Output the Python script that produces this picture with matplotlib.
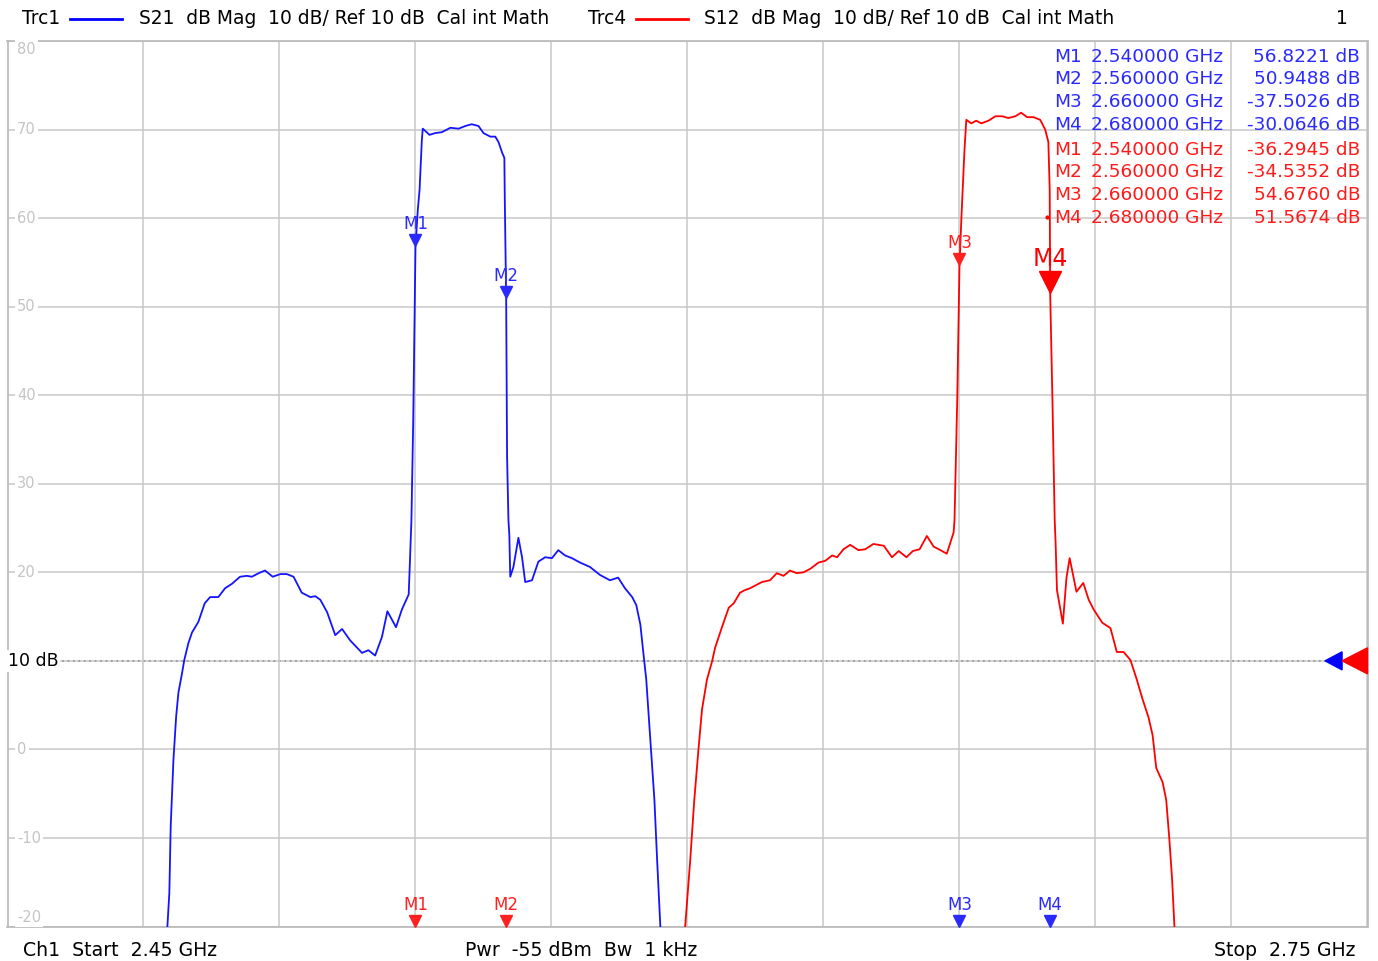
import matplotlib
matplotlib.use('Agg')
import matplotlib.pyplot as plt
from matplotlib.transforms import offset_copy
from matplotlib.patches import Polygon

W, H = 1378, 961
plt.rcParams['font.family'] = ['DejaVu Sans']

# ---- data (frequency in MHz, level in dB) ----
trc1_f = [2485.1, 2485.7, 2486.0, 2486.6, 2487.2, 2487.7, 2488.5, 2489.0, 2489.9, 2490.7,
          2492.1, 2493.5, 2494.7, 2496.5, 2498.0, 2499.5, 2501.3, 2502.8, 2503.9, 2505.4,
          2506.8, 2508.5, 2510.2, 2511.6, 2513.1, 2514.9, 2516.8, 2517.9, 2519.0, 2520.5,
          2522.3, 2523.8, 2525.6, 2528.2, 2529.6, 2531.1, 2532.6, 2533.8, 2535.7, 2537.0,
          2538.5, 2538.8, 2539.1, 2539.5, 2540.0, 2540.5, 2540.9, 2541.2, 2541.4, 2541.6,
          2543.1, 2544.3, 2545.8, 2547.7, 2549.5, 2551.0, 2552.4, 2553.9, 2555.0, 2556.5,
          2557.6, 2558.3, 2559.1, 2559.6, 2559.7, 2560.0, 2560.2, 2560.5, 2560.7, 2560.9,
          2561.6, 2562.7, 2563.5, 2564.2, 2565.7, 2567.1, 2568.6, 2570.1, 2571.5, 2573.0,
          2574.5, 2576.3, 2578.5, 2580.7, 2582.9, 2584.7, 2586.2, 2587.8, 2588.7, 2589.6,
          2590.2, 2590.9, 2591.8, 2592.7, 2593.3, 2594.0, 2594.2]
trc1_db = [-21.5, -16.2, -8.7, -1.2, 3.7, 6.4, 8.6, 10.1, 12.0, 13.2,
           14.4, 16.5, 17.2, 17.2, 18.2, 18.7, 19.5, 19.6, 19.5, 19.9,
           20.2, 19.5, 19.8, 19.8, 19.5, 17.7, 17.2, 17.3, 16.9, 15.5,
           12.9, 13.6, 12.3, 10.9, 11.2, 10.6, 12.7, 15.6, 13.8, 15.8,
           17.5, 21.6, 25.9, 37.2, 56.8, 60.9, 63.2, 66.6, 68.8, 70.1,
           69.4, 69.6, 69.7, 70.2, 70.1, 70.4, 70.6, 70.4, 69.6, 69.2,
           69.2, 68.6, 67.4, 66.8, 62.0, 50.9, 33.1, 25.9, 24.2, 19.5,
           20.6, 23.9, 21.7, 18.9, 19.1, 21.2, 21.7, 21.6, 22.5, 21.9,
           21.6, 21.1, 20.6, 19.7, 19.1, 19.4, 18.2, 17.2, 16.3, 14.1,
           11.2, 7.9, 1.1, -5.7, -12.5, -19.9, -22.0]

trc4_f = [2599.1, 2599.5, 2600.6, 2601.5, 2602.4, 2603.2, 2604.3, 2605.4, 2606.1, 2607.6,
          2609.1, 2610.2, 2611.6, 2612.7, 2613.8, 2615.3, 2616.4, 2618.2, 2619.7, 2621.2,
          2622.6, 2624.1, 2625.6, 2627.1, 2628.9, 2630.4, 2631.9, 2633.0, 2634.4, 2635.9,
          2637.7, 2639.2, 2641.0, 2643.3, 2645.1, 2646.6, 2648.3, 2649.7, 2651.2, 2652.8,
          2654.3, 2655.8, 2657.2, 2658.7, 2658.9, 2659.5, 2660.0, 2660.4, 2660.7, 2661.1,
          2661.5, 2662.6, 2663.7, 2664.8, 2666.4, 2667.9, 2669.4, 2670.8, 2672.3, 2673.6,
          2674.9, 2676.3, 2677.8, 2678.9, 2679.6, 2679.9, 2680.0, 2680.5, 2681.0, 2681.2,
          2681.5, 2682.8, 2683.6, 2684.3, 2685.8, 2687.3, 2688.5, 2689.6, 2691.5, 2693.3,
          2694.7, 2696.2, 2697.7, 2699.1, 2700.3, 2701.7, 2702.6, 2703.4, 2704.8, 2705.6,
          2706.3, 2706.9, 2707.4, 2707.6]
trc4_db = [-22.0, -19.9, -12.5, -5.7, -0.1, 4.5, 7.9, 9.9, 11.5, 13.8,
           16.0, 16.5, 17.7, 18.0, 18.2, 18.6, 18.9, 19.1, 19.9, 19.6,
           20.2, 19.9, 20.0, 20.4, 21.1, 21.3, 21.9, 21.7, 22.6, 23.1,
           22.5, 22.6, 23.2, 23.0, 21.7, 22.4, 21.7, 22.4, 22.6, 24.1,
           22.9, 22.5, 22.1, 24.5, 25.9, 39.5, 54.7, 59.8, 63.2, 67.7,
           71.1, 70.7, 71.0, 70.7, 71.0, 71.5, 71.5, 71.3, 71.5, 71.9,
           71.4, 71.4, 71.1, 70.0, 68.6, 63.2, 51.6, 39.5, 25.9, 23.3,
           18.0, 14.2, 19.4, 21.6, 17.8, 18.8, 16.9, 15.8, 14.3, 13.7,
           11.0, 11.0, 10.1, 7.9, 5.8, 3.6, 1.6, -2.1, -3.7, -5.7,
           -10.2, -14.7, -19.9, -22.0]

mk_names = ['M1', 'M2', 'M3', 'M4']
mk_freq = [2540.0, 2560.0, 2660.0, 2680.0]
mk_trc1 = [56.8221, 50.9488, -37.5026, -30.0646]
mk_trc4 = [-36.2945, -34.5352, 54.6760, 51.5674]

y_ticks = [80, 70, 60, 50, 40, 30, 20, 10, 0, -10, -20]
ref_level = 10
f_start, f_stop = 2450, 2750

BLUE = '#1414ff'
RED = '#ff0000'
GRID = '#c8c8c8'

def px(x, y):
    return x / W, 1 - y / H

fig = plt.figure(figsize=(W / 100, H / 100), dpi=100)
ax = fig.add_axes([7.5 / W, (H - 926.5) / H, 1360 / W, 885.5 / H])
ax.set_xlim(f_start, f_stop)
ax.set_ylim(-20, 80)
ax.set_xticks([f_start + 30 * k for k in range(11)])
ax.set_yticks(y_ticks)
ax.grid(True, color=GRID, lw=1.1)
ax.tick_params(length=0, labelbottom=False, labelleft=False)
for s in ax.spines.values():
    s.set_color('#b8b8b8')
    s.set_linewidth(1.2)

# y labels inside the grid, light gray
for v in y_ticks:
    if v == ref_level:
        continue
    if v == 80:
        yy = 50
    elif v == -20:
        yy = 917
    else:
        yy = 661 - (v - ref_level) * 8.855
    fig.text(*px(17, yy), str(v), color='#c4c4c4', fontsize=10.5, ha='left', va='center',
             bbox=dict(boxstyle='square,pad=0.15', fc='white', ec='none'))

# reference line
ax.axhline(ref_level, color='black', ls=(0, (1, 2)), lw=1.3, zorder=1)
fig.text(*px(8, 661), '10 dB', color='black', fontsize=12.5, ha='left', va='center',
         bbox=dict(boxstyle='square,pad=0.1', fc='white', ec='none'), zorder=5)
ax.add_patch(Polygon([[0.9688, 0.3], [0.9813, 0.3102], [0.9813, 0.2898]],
                     closed=True, transform=ax.transAxes, color='#0000ff', zorder=4, clip_on=False))
ax.add_patch(Polygon([[0.9813, 0.3], [1.0, 0.3147], [1.0, 0.2853]],
                     closed=True, transform=ax.transAxes, color=RED, zorder=4, clip_on=False))

# traces
ax.plot(trc1_f, trc1_db, color=BLUE, lw=1.3, zorder=3)
ax.plot(trc4_f, trc4_db, color=RED, lw=1.3, zorder=3)

def marker(f, v, name, color, size=12, fs=12, gap=17):
    v = max(v, -20)
    tr = offset_copy(ax.transData, fig=fig, x=0, y=size / 2, units='dots')
    ax.plot([f], [v], marker='v', ms=size * 0.72, color=color, ls='none',
            transform=tr, clip_on=False, zorder=6)
    ax.annotate(name, (f, v), xytext=(0, gap), textcoords='offset pixels',
                ha='center', va='baseline', color=color, fontsize=fs, zorder=6)

for i in range(4):
    if i == 3:
        marker(mk_freq[i], mk_trc4[i], mk_names[i], RED, size=22, fs=17, gap=27)
    else:
        marker(mk_freq[i], mk_trc4[i], mk_names[i], '#ff2020')
    marker(mk_freq[i], mk_trc1[i], mk_names[i], '#2a2aff')

# marker readout table
rows_y = [57, 79, 102, 125, 150, 172, 195, 218]
k = 0
for vals, col in [(mk_trc1, '#2a2aff'), (mk_trc4, '#ff1a1a')]:
    for name, f, v in zip(mk_names, mk_freq, vals):
        y = rows_y[k]
        fig.text(*px(1054, y), name, color=col, fontsize=13.3, ha='left', va='center')
        fig.text(*px(1091, y), '%.6f GHz' % (f / 1000), color=col, fontsize=13.3, ha='left', va='center')
        fig.text(*px(1360, y), '%.4f dB' % v, color=col, fontsize=13.3, ha='right', va='center')
        k += 1
fig.lines.append(plt.Line2D([1047 / W], [1 - 217 / H], transform=fig.transFigure,
                            marker='o', ms=2, color=RED))

# header
hy = 19
fig.text(*px(22, hy), 'Trc1', fontsize=13.4, ha='left', va='center')
fig.lines.append(plt.Line2D([70 / W, 122 / W], [1 - hy / H] * 2, transform=fig.transFigure,
                            color='#0000ff', lw=2))
fig.text(*px(139, hy), 'S21  dB Mag  10 dB/ Ref 10 dB  Cal int Math', fontsize=13.4,
         ha='left', va='center')
fig.text(*px(588, hy), 'Trc4', fontsize=13.4, ha='left', va='center')
fig.lines.append(plt.Line2D([636 / W, 688 / W], [1 - hy / H] * 2, transform=fig.transFigure,
                            color=RED, lw=2))
fig.text(*px(704, hy), 'S12  dB Mag  10 dB/ Ref 10 dB  Cal int Math', fontsize=13.4,
         ha='left', va='center')
fig.text(*px(1342, hy), '1', fontsize=13.4, ha='center', va='center')

# footer
fy = 950
fig.text(*px(23, fy), 'Ch1  Start  2.45 GHz', fontsize=13.6, ha='left', va='center')
fig.text(*px(465, fy), 'Pwr  -55 dBm  Bw  1 kHz', fontsize=13.6, ha='left', va='center')
fig.text(*px(1355, fy), 'Stop  2.75 GHz', fontsize=13.6, ha='right', va='center')

fig.savefig('out.png', dpi=100, facecolor='white')
